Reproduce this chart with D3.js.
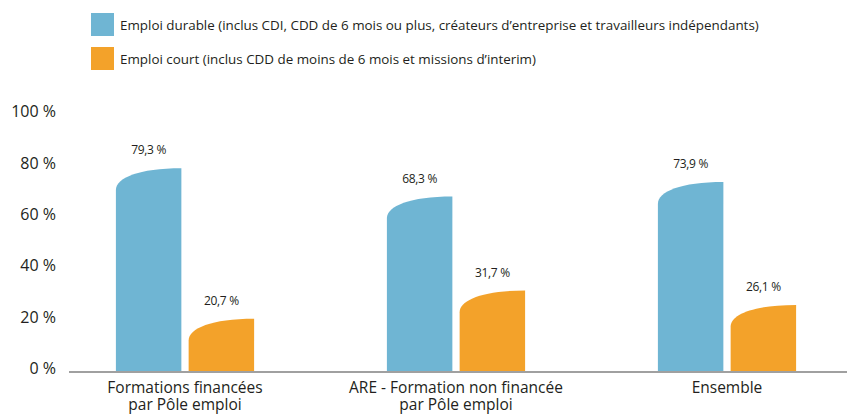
<!DOCTYPE html>
<html>
<head>
<meta charset="utf-8">
<script src="https://cdn.jsdelivr.net/npm/d3@7"></script>
<style>
  body { margin: 0; background: #fff; }
  text { font-family: "Open Sans", "Noto Sans", sans-serif; fill: #231f20; }
</style>
</head>
<body>
<script>
var width = 847, height = 414;

// data
var categories = ["Formations financées par Pôle emploi", "ARE - Formation non financée par Pôle emploi", "Ensemble"];
var categoryLines = [["Formations financées", "par Pôle emploi"], ["ARE - Formation non financée", "par Pôle emploi"], ["Ensemble"]];
var series = ["durable", "court"];
var seriesLabels = ["Emploi durable (inclus CDI, CDD de 6 mois ou plus, créateurs d\u2019entreprise et travailleurs indépendants)",
                    "Emploi court (inclus CDD de moins de 6 mois et missions d\u2019interim)"];
var durable = [79.3, 68.3, 73.9];
var court = [20.7, 31.7, 26.1];
var yTicks = [0, 20, 40, 60, 80, 100];

var colors = {"durable": "#6fb5d3", "court": "#f3a22a"};
var values = {"durable": durable, "court": court};

var svg = d3.select("body").append("svg")
    .attr("width", width)
    .attr("height", height);

var x0 = d3.scaleBand().domain(categories).range([49.5, 862.5])
    .paddingInner(0.49).paddingOuter(0.245);
var x1 = d3.scaleBand().domain(series).range([0, x0.bandwidth()]).paddingInner(0.1);
var y = d3.scaleLinear().domain([0, 100]).range([372, 115]);

// legend
var legend = svg.append("g").selectAll("g")
    .data(series)
    .enter().append("g")
    .attr("transform", function(d, i) { return "translate(91," + (13 + i * 34) + ")"; });
legend.append("rect")
    .attr("width", 23).attr("height", 23)
    .style("fill", function(d) { return colors[d]; });
legend.append("text")
    .attr("x", 29).attr("y", 12).attr("dy", "0.35em")
    .style("font-size", "13.4px")
    .text(function(d, i) { return seriesLabels[i]; });

// y axis (labels only)
var yAxis = d3.axisLeft(y).tickValues(yTicks).tickSize(0).tickPadding(0)
    .tickFormat(function(d) { return d + " %"; });
var gy = svg.append("g").attr("transform", "translate(56,0)").call(yAxis);
gy.select(".domain").remove();
gy.selectAll("text")
    .attr("dy", "0.1em")
    .style("font-size", "16px")
    .style("font-family", "\"Open Sans\", sans-serif")
    .style("fill", "#231f20");

// bars with curved top
function barPath(bx, bw, top, bottom) {
    var drop = bw * 0.33;
    return "M" + bx + "," + bottom +
        "L" + bx + "," + (top + drop) +
        "C" + bx + "," + (top + drop * 0.45) + " " + (bx + bw * 0.35) + "," + top + " " + (bx + bw) + "," + top +
        "L" + (bx + bw) + "," + bottom + "Z";
}

var groups = svg.append("g").selectAll("g")
    .data(categories)
    .enter().append("g")
    .attr("transform", function(d) { return "translate(" + x0(d) + ",0)"; });

var bars = groups.selectAll("path")
    .data(function(d, i) { return series.map(function(s) { return {s: s, v: values[s][i]}; }); })
    .enter();

bars.append("path")
    .attr("d", function(d) { return barPath(x1(d.s), x1.bandwidth(), y(d.v), y(0)); })
    .style("fill", function(d) { return colors[d.s]; });

bars.append("text")
    .attr("x", function(d) { return x1(d.s) + x1.bandwidth() / 2; })
    .attr("y", function(d) { return y(d.v) - 18; })
    .attr("dy", "0.35em")
    .attr("text-anchor", "middle")
    .style("font-size", "12px")
    .style("letter-spacing", "-0.3px")
    .text(function(d) { return d3.format(".1f")(d.v).replace(".", ",") + " %"; });

// x axis
svg.append("line")
    .attr("x1", 69).attr("x2", width)
    .attr("y1", y(0)).attr("y2", y(0))
    .style("stroke", "#a0a0a0")
    .style("stroke-width", 2);

var xLabels = svg.append("g").selectAll("text")
    .data(categories)
    .enter().append("text")
    .attr("text-anchor", "middle")
    .attr("x", function(d) { return x0(d) + x0.bandwidth() / 2; })
    .attr("y", 388)
    .style("font-size", "15.5px");
xLabels.selectAll("tspan")
    .data(function(d, i) { return categoryLines[i]; })
    .enter().append("tspan")
    .attr("x", function() { return this.parentNode.getAttribute("x"); })
    .attr("dy", function(d, i) { return i === 0 ? "0.35em" : "17px"; })
    .text(function(d) { return d; });
</script>
</body>
</html>
